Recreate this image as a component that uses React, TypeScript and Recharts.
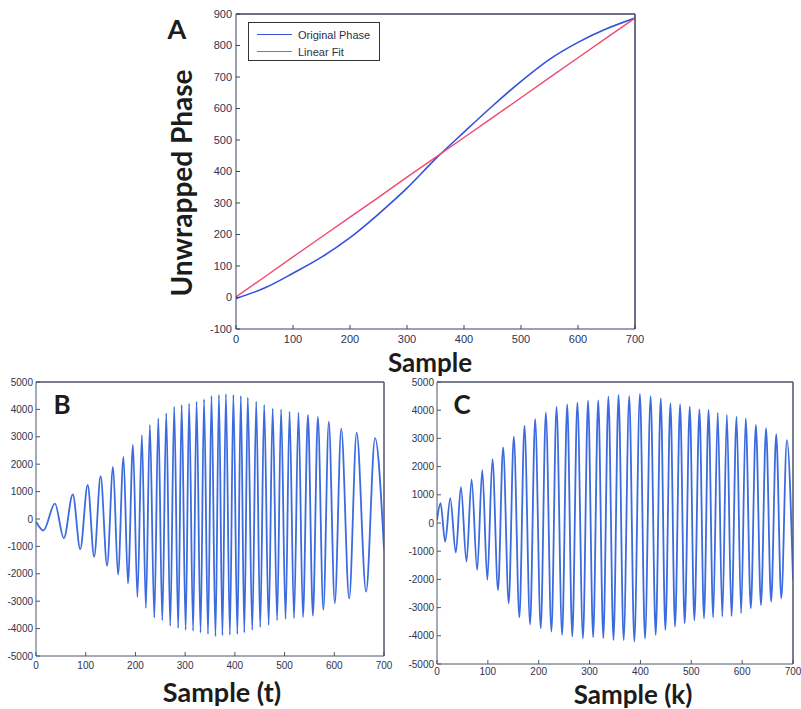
import React from 'react';
import { LineChart, Line, XAxis, YAxis, Legend, ReferenceLine } from 'recharts';

// ---------- Panel A: unwrapped phase ----------
const aSamples = [0, 50, 100, 150, 200, 250, 300, 350, 400, 450, 500, 550, 600, 650, 700];
const aOriginalPhase = [-3, 30, 77, 128, 190, 265, 347, 440, 525, 608, 686, 756, 810, 853, 887];
const aLinearFit = [2, 65, 129, 192, 255, 318, 382, 445, 508, 571, 634, 698, 761, 824, 887];
const phaseTicksY = [-100, 0, 100, 200, 300, 400, 500, 600, 700, 800, 900];
const sampleTicks = [0, 100, 200, 300, 400, 500, 600, 700];
const legendOrder = ['Original Phase', 'Linear Fit'];

// ---------- Panel B: signal vs sample (t), turning points ----------
const bSamples = [0, 15, 38, 56, 74, 89, 104, 117, 130, 143, 155, 165, 176, 185, 195, 204, 213, 221, 229, 238, 246, 254, 262, 270, 278, 286, 293, 301, 308, 316, 323, 331, 338, 346, 353, 361, 368, 375, 382, 390, 397, 405, 412, 419, 426, 435, 443, 451, 459, 468, 476, 485, 493, 502, 510, 519, 528, 537, 547, 557, 567, 578, 589, 601, 614, 630, 645, 664, 682, 700];
const bValues = [-100, -420, 560, -700, 900, -1100, 1240, -1380, 1560, -1700, 1900, -2030, 2270, -2350, 2700, -2850, 3060, -3250, 3430, -3600, 3670, -3700, 3860, -3900, 4100, -3980, 4160, -4050, 4220, -4080, 4280, -4150, 4370, -4200, 4490, -4280, 4525, -4250, 4560, -4230, 4525, -4200, 4490, -4150, 4440, -4050, 4280, -3950, 4160, -3870, 4040, -3700, 4000, -3650, 3920, -3620, 3880, -3580, 3800, -3530, 3730, -3320, 3550, -3080, 3300, -2900, 3150, -2650, 2950, -1100];

// ---------- Panel C: signal vs sample (k), turning points ----------
const cSamples = [0, 7, 16, 26, 37, 47, 58, 68, 79, 89, 99, 109, 120, 130, 141, 151, 162, 172, 183, 193, 204, 214, 225, 235, 246, 256, 266, 276, 287, 297, 307, 317, 327, 337, 347, 357, 367, 378, 388, 399, 409, 420, 430, 440, 449, 459, 468, 478, 487, 497, 506, 516, 525, 534, 543, 552, 561, 570, 579, 589, 598, 607, 617, 627, 637, 647, 657, 667, 677, 688, 700];
const cValues = [100, 700, -660, 880, -1050, 1270, -1370, 1550, -1670, 1880, -2020, 2260, -2380, 2680, -2850, 3060, -3350, 3450, -3600, 3680, -3740, 3910, -3850, 4120, -3970, 4210, -4030, 4270, -4090, 4340, -4050, 4350, -4080, 4480, -4150, 4540, -4150, 4500, -4210, 4575, -4100, 4500, -3970, 4420, -3790, 4245, -3675, 4210, -3560, 4125, -3450, 4030, -3380, 4010, -3350, 3910, -3320, 3830, -3300, 3770, -3200, 3710, -3030, 3475, -2910, 3360, -2790, 3155, -2670, 2940, -2000];
const signalTicksY = [-5000, -4000, -3000, -2000, -1000, 0, 1000, 2000, 3000, 4000, 5000];

const aData = aSamples.map((s, i) => ({ s, orig: aOriginalPhase[i], fit: aLinearFit[i] }));
const bData = bSamples.map((s, i) => ({ s, v: bValues[i] }));
const cData = cSamples.map((s, i) => ({ s, v: cValues[i] }));

const tickFont = 'Liberation Sans, Arial, sans-serif';
const titleFont = 'Lato, "Open Sans", sans-serif';

const renderLegend = (props: any) => {
  const items = (props.payload || []).filter((it: any) => legendOrder.includes(it.value));
  items.sort((p: any, q: any) => legendOrder.indexOf(p.value) - legendOrder.indexOf(q.value));
  return (
    <div
      style={{
        width: 132,
        height: 39,
        boxSizing: 'border-box',
        border: '1.5px solid #333',
        background: '#fff',
        paddingTop: 3,
        paddingLeft: 8,
        fontFamily: tickFont,
        fontSize: 11,
        color: '#2b2f4a',
      }}
    >
      {items.map((it: any) => (
        <div key={it.value} style={{ display: 'flex', alignItems: 'center', height: 17 }}>
          <span style={{ display: 'inline-block', width: 35, height: 0, borderTop: `1.5px solid ${it.color}`, marginRight: 6 }} />
          <span>{it.value}</span>
        </div>
      ))}
    </div>
  );
};

function Title({ text, cx, cy, size, rotate }: { text: string; cx: number; cy: number; size: number; rotate?: boolean }) {
  return (
    <div
      style={{
        position: 'absolute',
        left: cx,
        top: cy,
        transform: `translate(-50%, -50%)${rotate ? ' rotate(-90deg)' : ''}`,
        fontFamily: titleFont,
        fontWeight: 700,
        fontSize: size,
        lineHeight: 0.7,
        whiteSpace: 'nowrap',
        color: '#1c1c1c',
      }}
    >
      {text}
    </div>
  );
}

function SignalPanel({ data, left, top, width, height, margin, yWidth, xHeight, tickMarginX, color }: any) {
  const axisColor = '#50556a';
  const tk = { fill: '#2e3350', fontSize: 10, fontFamily: tickFont };
  return (
    <div style={{ position: 'absolute', left, top }}>
      <LineChart width={width} height={height} data={data} margin={margin}>
        <XAxis dataKey="s" type="number" domain={[0, 700]} ticks={sampleTicks} interval={0} allowDataOverflow
          stroke={axisColor} tickSize={-4} tickMargin={tickMarginX} height={xHeight} tick={tk} />
        <XAxis xAxisId="top" orientation="top" dataKey="s" type="number" domain={[0, 700]} ticks={sampleTicks} interval={0} allowDataOverflow
          stroke={axisColor} tickSize={-4} tick={false} height={1} />
        <YAxis type="number" domain={[-5000, 5000]} ticks={signalTicksY} interval={0} allowDataOverflow
          stroke={axisColor} tickSize={-4} tickMargin={7} width={yWidth} tick={tk} />
        <YAxis yAxisId="right" orientation="right" type="number" domain={[-5000, 5000]} ticks={signalTicksY} interval={0} allowDataOverflow
          stroke={axisColor} tickSize={-4} tick={false} width={1} />
        <ReferenceLine y={5000} stroke={axisColor} strokeWidth={1} />
        <ReferenceLine x={700} stroke={axisColor} strokeWidth={1} />
        <Line xAxisId="top" yAxisId="right" dataKey="v" type="monotone" stroke="none" strokeWidth={0} dot={false}
          legendType="none" isAnimationActive={false} />
        <Line dataKey="v" type="monotone" stroke={color} strokeWidth={1.8} dot={false} isAnimationActive={false} />
      </LineChart>
    </div>
  );
}

export default function App() {
  const aAxis = '#3b4060';
  const aTick = { fill: '#2d3358', fontSize: 11, fontFamily: tickFont };
  return (
    <div style={{ position: 'absolute', left: 0, top: 0, width: 801, height: 709, background: '#fff', overflow: 'hidden' }}>
      <div style={{ position: 'absolute', left: 0, top: 0 }}>
        <LineChart width={801} height={360} data={aData} margin={{ top: 13, right: 165, bottom: 11, left: 206 }}>
          <XAxis dataKey="s" type="number" domain={[0, 700]} ticks={sampleTicks} interval={0} allowDataOverflow
            stroke={aAxis} tickSize={-4} tickMargin={10} height={20} tick={aTick} />
          <XAxis xAxisId="top" orientation="top" dataKey="s" type="number" domain={[0, 700]} ticks={sampleTicks} interval={0} allowDataOverflow
            stroke={aAxis} tickSize={-4} tick={false} height={1} />
          <YAxis type="number" domain={[-100, 900]} ticks={phaseTicksY} interval={0} allowDataOverflow
            stroke={aAxis} tickSize={-4} tickMargin={8} width={30} tick={aTick} />
          <YAxis yAxisId="right" orientation="right" type="number" domain={[-100, 900]} ticks={phaseTicksY} interval={0} allowDataOverflow
            stroke={aAxis} tickSize={-4} tick={false} width={1} />
          <ReferenceLine y={900} stroke={aAxis} strokeWidth={1} />
          <ReferenceLine x={700} stroke={aAxis} strokeWidth={1} />
          <Legend layout="vertical" align="center" verticalAlign="middle" content={renderLegend}
            wrapperStyle={{ position: 'absolute', left: 248, top: 22, width: 132, height: 39 }} />
          <Line xAxisId="top" yAxisId="right" dataKey="fit" type="linear" stroke="none" strokeWidth={0} dot={false}
            legendType="none" isAnimationActive={false} />
          <Line name="Original Phase" dataKey="orig" type="monotone" stroke="#3452dc" strokeWidth={1.6} dot={false} isAnimationActive={false} />
          <Line name="Linear Fit" dataKey="fit" type="linear" stroke="#f04a70" strokeWidth={1.4} dot={false} isAnimationActive={false} />
        </LineChart>
      </div>

      <SignalPanel data={bData} left={0} top={372} width={400} height={310}
        margin={{ top: 9, right: 15, bottom: 6, left: 0 }} yWidth={36} xHeight={20} tickMarginX={10} color="#3c6be0" />
      <SignalPanel data={cData} left={400} top={372} width={401} height={310}
        margin={{ top: 9, right: 7, bottom: 2, left: 0 }} yWidth={37} xHeight={16} tickMarginX={8} color="#3c6be0" />

      <Title text="A" cx={177} cy={29} size={27} />
      <Title text="Unwrapped Phase" cx={182} cy={183} size={28} rotate />
      <Title text="Sample" cx={430} cy={362} size={26} />
      <Title text="B" cx={62} cy={404} size={26} />
      <Title text="C" cx={462} cy={404} size={26} />
      <Title text="Sample (t)" cx={222} cy={692} size={27} />
      <Title text="Sample (k)" cx={633} cy={694} size={26} />
    </div>
  );
}
